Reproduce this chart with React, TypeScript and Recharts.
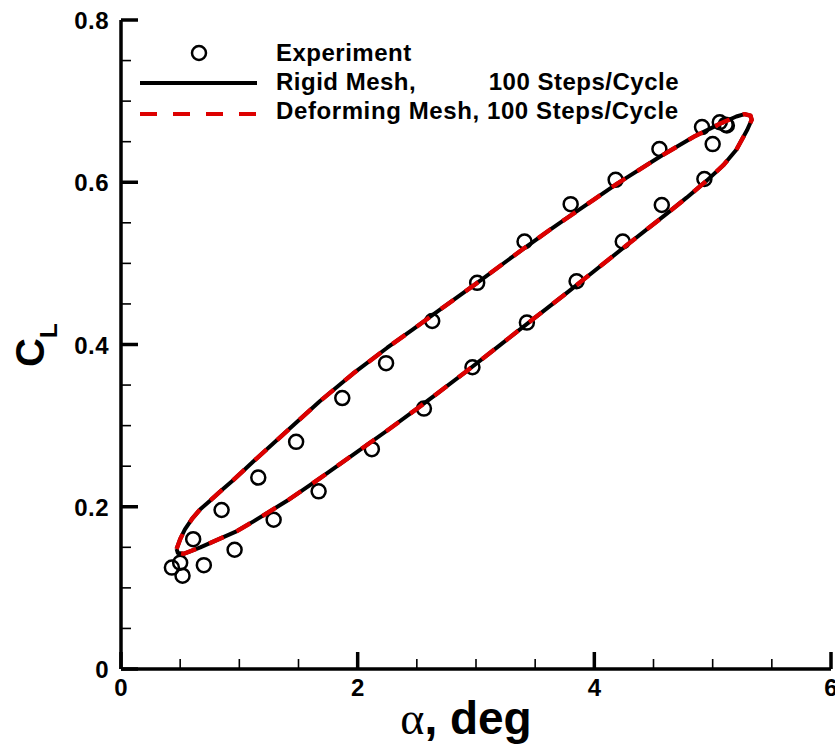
import { ComposedChart, Scatter, XAxis, YAxis, Customized } from 'recharts'

const FONT = '"Liberation Sans", Arial, Helvetica, sans-serif'

// experiment (circles)
const expAlpha = [
  5.06, 5.11, 5.12, 4.91, 5.0, 4.55, 4.93, 4.18, 4.57, 3.8, 4.24, 3.41, 3.85, 3.01, 3.43, 2.63,
  2.97, 2.24, 2.56, 1.87, 2.12, 1.48, 1.67, 1.16, 1.29, 0.85, 0.96, 0.61, 0.7, 0.5, 0.43, 0.52,
]
const expCl = [
  0.674, 0.671, 0.67, 0.668, 0.647, 0.641, 0.604, 0.603, 0.572, 0.573, 0.527, 0.527, 0.478, 0.476, 0.427, 0.429,
  0.372, 0.377, 0.321, 0.334, 0.271, 0.28, 0.219, 0.236, 0.184, 0.196, 0.147, 0.16, 0.128, 0.131, 0.125, 0.115,
]

// computed loop, upper branch then lower branch back to the start
const loopAlpha = [
  0.47, 0.5, 0.54, 0.6, 0.67, 0.75, 0.84, 0.95, 1.12, 1.4, 1.68, 1.96, 2.25, 2.47, 2.64, 3.01, 3.4, 3.63, 3.77, 3.99,
  4.19, 4.56, 4.84, 5.06, 5.2, 5.27, 5.32, 5.33, 5.29, 5.2, 5.09, 4.95, 4.78, 4.61, 4.27, 3.96, 3.77, 3.48, 3.2, 2.92,
  2.64, 2.53, 2.25, 1.96, 1.68, 1.4, 1.12, 0.98, 0.67, 0.53, 0.48, 0.47,
]
const rigidCl = [
  0.148, 0.16, 0.172, 0.185, 0.197, 0.207, 0.219, 0.233, 0.256, 0.293, 0.33, 0.364, 0.396, 0.419, 0.437, 0.476, 0.518, 0.542, 0.556, 0.578,
  0.598, 0.632, 0.656, 0.672, 0.681, 0.684, 0.682, 0.677, 0.664, 0.64, 0.621, 0.602, 0.581, 0.561, 0.522, 0.486, 0.464, 0.431, 0.399, 0.367,
  0.336, 0.324, 0.294, 0.264, 0.235, 0.207, 0.182, 0.17, 0.15, 0.142, 0.143, 0.148,
]
const deformCl = [
  0.148, 0.16, 0.172, 0.185, 0.197, 0.207, 0.219, 0.233, 0.256, 0.293, 0.33, 0.364, 0.396, 0.419, 0.437, 0.476, 0.518, 0.542, 0.556, 0.578,
  0.598, 0.632, 0.656, 0.672, 0.681, 0.684, 0.682, 0.677, 0.664, 0.64, 0.621, 0.602, 0.581, 0.561, 0.522, 0.486, 0.464, 0.431, 0.399, 0.367,
  0.336, 0.324, 0.294, 0.264, 0.235, 0.207, 0.182, 0.17, 0.15, 0.142, 0.143, 0.148,
]

const xTicks = [0, 0.5, 1, 1.5, 2, 2.5, 3, 3.5, 4, 4.5, 5, 5.5, 6]
const xMajor = [0, 2, 4, 6]
const yTicks = [0, 0.05, 0.1, 0.15, 0.2, 0.25, 0.3, 0.35, 0.4, 0.45, 0.5, 0.55, 0.6, 0.65, 0.7, 0.75, 0.8]
const yMajor = [0, 0.2, 0.4, 0.6, 0.8]

const expData = expAlpha.map((a, i) => ({ a, cl: expCl[i] }))
const rigidData = loopAlpha.map((a, i) => ({ a, cl: rigidCl[i] }))
const deformData = loopAlpha.map((a, i) => ({ a, cl: deformCl[i] }))

const MAJ = 17
const MIN = 10
const TICK_FONT = 24
const RED = '#dd0000'

function BottomTick({ x, y, payload }: any) {
  const major = xMajor.includes(payload.value)
  return (
    <g>
      <line x1={x} x2={x} y1={y} y2={y - (major ? MAJ : MIN)} stroke="#000" strokeWidth={major ? 3.5 : 1.6} />
      {major && (
        <text x={x} y={y + 27} textAnchor="middle" fontFamily={FONT} fontWeight="bold" fontSize={TICK_FONT} fill="#000">
          {payload.value}
        </text>
      )}
    </g>
  )
}

function TopTick({ x, y, payload }: any) {
  const major = xMajor.includes(payload.value)
  return <line x1={x} x2={x} y1={y} y2={y + (major ? MAJ : MIN)} stroke="#000" strokeWidth={major ? 3.5 : 1.6} />
}

function LeftTick({ x, y, payload }: any) {
  const major = yMajor.includes(payload.value)
  return (
    <g>
      <line x1={x} x2={x + (major ? MAJ : MIN)} y1={y} y2={y} stroke="#000" strokeWidth={major ? 3.5 : 1.6} />
      {major && (
        <text x={x - 12} y={y + 9} textAnchor="end" fontFamily={FONT} fontWeight="bold" fontSize={TICK_FONT} fill="#000" letterSpacing={0.5}>
          {payload.value === 0 ? '0' : payload.value.toFixed(1)}
        </text>
      )}
    </g>
  )
}

function RightTick({ x, y, payload }: any) {
  const major = yMajor.includes(payload.value)
  return <line x1={x} x2={x - (major ? MAJ : MIN)} y1={y} y2={y} stroke="#000" strokeWidth={major ? 3.5 : 1.6} />
}

// scatter "line" renderer: joins the points recharts has already projected
const loopLine = (stroke: string, width: number, dash?: string) => (props: any) => (
  <polyline
    points={(props.points || []).map((p: any) => `${p.x},${p.y}`).join(' ')}
    style={{ fill: 'none', stroke, strokeWidth: width, strokeDasharray: dash || 'none', strokeLinejoin: 'round' }}
  />
)

function Decorations() {
  return (
    <g fontFamily={FONT} fontWeight="bold" fill="#000">
      {/* legend */}
      <circle cx={199} cy={53} r={7} fill="none" stroke="#000" strokeWidth={2.5} />
      <text x={276} y={61} fontSize={24} letterSpacing={0.5}>Experiment</text>
      <line x1={140} x2={257} y1={83} y2={83} stroke="#000" strokeWidth={4} />
      <text x={276} y={90} fontSize={24} letterSpacing={0.5}>Rigid Mesh,</text>
      <text x={679} y={90} fontSize={24} letterSpacing={0.5} textAnchor="end">100 Steps/Cycle</text>
      <line x1={140} x2={257} y1={114} y2={114} stroke={RED} strokeWidth={4} strokeDasharray="17 16" />
      <text x={276} y={119} fontSize={24} letterSpacing={0.6}>Deforming Mesh, 100 Steps/Cycle</text>
      {/* axis titles */}
      <text x={44} y={367} fontSize={40} transform="rotate(-90 44 367)">
        C<tspan fontSize={24} dy={13}>L</tspan>
      </text>
      <text x={466} y={734} fontSize={46} textAnchor="middle">
        <tspan fontFamily='"Liberation Serif", "Times New Roman", serif' fontWeight="normal">α</tspan>, deg
      </text>
    </g>
  )
}

export default function App() {
  const axisLine = { stroke: '#000', strokeWidth: 3.5 }
  return (
    <div style={{ position: 'absolute', left: 0, top: 0, width: 835, height: 744, background: '#fff' }}>
      <ComposedChart width={835} height={744} margin={{ top: 20, right: 4, bottom: 0, left: 0 }}>
        <XAxis
          xAxisId="b"
          dataKey="a"
          type="number"
          domain={[0, 6]}
          ticks={xTicks}
          interval={0}
          tickSize={0}
          tickMargin={0}
          tickLine={false}
          tick={BottomTick}
          axisLine={axisLine}
          height={75}
          allowDataOverflow
        />
        <XAxis
          xAxisId="t"
          orientation="top"
          type="number"
          domain={[0, 6]}
          ticks={xTicks}
          interval={0}
          tickSize={0}
          tickMargin={0}
          tickLine={false}
          tick={TopTick}
          axisLine={axisLine}
          height={0}
          allowDataOverflow
        />
        <YAxis
          yAxisId="l"
          dataKey="cl"
          type="number"
          domain={[0, 0.8]}
          ticks={yTicks}
          interval={0}
          tickSize={0}
          tickMargin={0}
          tickLine={false}
          tick={LeftTick}
          axisLine={axisLine}
          width={121}
          allowDataOverflow
        />
        <YAxis
          yAxisId="r"
          orientation="right"
          type="number"
          domain={[0, 0.8]}
          ticks={yTicks}
          interval={0}
          tickSize={0}
          tickMargin={0}
          tickLine={false}
          tick={RightTick}
          axisLine={axisLine}
          width={0}
          allowDataOverflow
        />
        <Scatter
          xAxisId="b"
          yAxisId="l"
          data={expData}
          isAnimationActive={false}
          shape={(p: any) => <circle cx={p.cx} cy={p.cy} r={7} fill="none" stroke="#000" strokeWidth={2.5} />}
        />
        <Scatter
          xAxisId="b"
          yAxisId="l"
          data={rigidData}
          isAnimationActive={false}
          line={loopLine('#000', 4)}
          lineType="joint"
          shape={() => <g />}
        />
        <Scatter
          xAxisId="b"
          yAxisId="l"
          data={deformData}
          isAnimationActive={false}
          line={loopLine(RED, 4.4, '16 14')}
          lineType="joint"
          shape={() => <g />}
        />
        <Customized component={Decorations} />
      </ComposedChart>
    </div>
  )
}
